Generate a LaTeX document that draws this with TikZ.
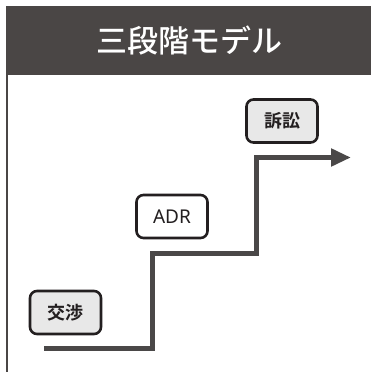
\documentclass[tikz,border=0pt]{standalone}
\usepackage{fontspec}
\setmainfont{Noto Sans}
\newfontfamily\jpfont{Noto Sans CJK JP Medium}
\newfontfamily\jpbold{Noto Sans CJK JP Bold}
\usetikzlibrary{arrows.meta}
\definecolor{bardark}{HTML}{4A4645}
\definecolor{linedark}{HTML}{4A4848}
\definecolor{boxedge}{HTML}{231F20}
\definecolor{boxgray}{HTML}{E8E8E8}
\tikzset{
  stagebox/.style={draw=boxedge, line width=2.6pt, rounded corners=7pt,
    minimum width=71pt, minimum height=43pt, inner sep=0pt, text=boxedge},
  stair/.style={draw=linedark, line width=5pt, line join=miter,
    -{Triangle[length=20pt,width=17pt]}},
}
\begin{document}
\begin{tikzpicture}[x=1pt,y=-1pt]
\useasboundingbox (0,0) rectangle (371,372);
\fill[white] (0,0) rectangle (371,372);
% title bar
\node[fill=bardark, minimum width=365pt, minimum height=69pt, inner sep=0pt,
  anchor=north west] (bar) at (6,6) {};
\node[text=white, font=\jpfont\fontsize{31}{33}\selectfont] (title) at (189,41) {三段階モデル};
% left frame line
\coordinate (ltop) at (6.5,75);
\coordinate (lbot) at (6.5,372);
\draw[bardark, line width=2pt] (ltop) -- (lbot);
% boxes
\node[stagebox, fill=boxgray, font=\jpbold\fontsize{18}{20}\selectfont] (kosho) at (65.5,312.5) {交渉};
\node[stagebox, fill=white, font=\fontsize{19}{21}\selectfont] (adr) at (172,216.5) {ADR};
\node[stagebox, fill=boxgray, font=\jpbold\fontsize{18}{20}\selectfont] (sosho) at (282,121) {訴訟};
% stairs
\coordinate (s0) at (44,348.5);
\coordinate (s1) at (152,348.5);
\coordinate (s2) at (152,253.5);
\coordinate (s3) at (256,253.5);
\coordinate (s4) at (256,157.5);
\coordinate (s5) at (351,157.5);
\draw[stair] (s0) -- (s1) -- (s2) -- (s3) -- (s4) -- (s5);
\end{tikzpicture}
\end{document}
